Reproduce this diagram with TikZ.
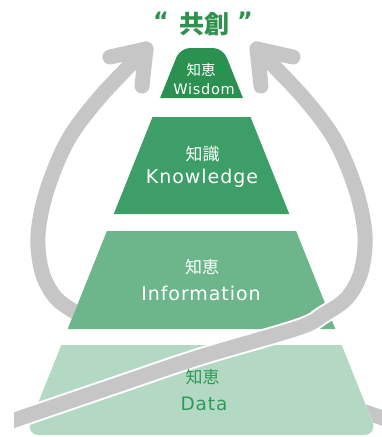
\documentclass[tikz,border=0pt]{standalone}
\usepackage{fontspec}
\setmainfont{DejaVu Sans}
\newfontfamily\cjk{Noto Sans CJK JP}
\newfontfamily\lat[LetterSpace=5]{DejaVu Sans}
\definecolor{gW}{HTML}{2A9150}
\definecolor{gK}{HTML}{3D9E68}
\definecolor{gI}{HTML}{6DB68B}
\definecolor{gD}{HTML}{B3D9C4}
\definecolor{gT}{HTML}{2E9150}
\definecolor{gDT}{HTML}{2F9A57}
\definecolor{arrgray}{HTML}{C6C6C6}
\begin{document}
\begin{tikzpicture}[x=1pt,y=-1pt,
  arr/.style={line width=15pt, draw=arrgray, line cap=round, line join=round},
  arrborder/.style={line width=19pt, draw=white, line cap=round, line join=round},
  cjkw/.style={font=\cjk\fontsize{#1}{#1}\selectfont, text=white, inner sep=0pt},
  latw/.style={font=\lat\fontsize{#1}{#1}\selectfont, text=white, inner sep=0pt, anchor=base},
  cjkd/.style={font=\cjk\fontsize{17}{17}\selectfont, text=gDT, inner sep=0pt},
  latd/.style={font=\lat\fontsize{18.5}{18.5}\selectfont, text=gDT, inner sep=0pt, anchor=base}]
\useasboundingbox (0,0) rectangle (382,437);

% left arrow (behind pyramid)
\draw[arr] plot[smooth, tension=0.55] coordinates {(146,49) (100,97) (68,140) (47,190) (38,235) (42,272) (56,298) (80,315) (105,328) (203,357) (283,384) (400,424)};
\draw[arr] (110,57) -- (146,49) -- (142,86);

% white pyramid base
\fill[white] (180.1,48) -- (222.9,48) -- (377.7,435) -- (25.3,435) -- cycle;

% layers
\fill[gW] (160.1,98) [rounded corners=10pt] -- (180.1,48) -- (222.9,48) [sharp corners] -- (242.9,98) -- cycle;
\fill[gK] (152.5,117) -- (250.5,117) -- (289.3,214) -- (113.7,214) -- cycle;
\fill[gI] (106.9,231) -- (296.1,231) -- (335.3,329) -- (67.7,329) -- cycle;
\fill[gD] (61.3,345) -- (341.7,345) [rounded corners=14pt] -- (377.7,435) -- (25.3,435) [sharp corners] -- cycle;

% right arrow (in front, mirrored)
\begin{scope}
\clip (14,0) rectangle (382,437);
\begin{scope}[shift={(403,0)}, xscale=-1]
\draw[arrborder] plot[smooth, tension=0.55] coordinates {(146,49) (100,97) (68,140) (47,190) (38,235) (42,272) (56,298) (80,315) (105,328) (203,357) (283,384) (400,424)};
\draw[arr] plot[smooth, tension=0.55] coordinates {(146,49) (100,97) (68,140) (47,190) (38,235) (42,272) (56,298) (80,315) (105,328) (203,357) (283,384) (400,424)};
\draw[arr] (110,57) -- (146,49) -- (142,86);
\end{scope}
\end{scope}

% title
\node[font=\cjk\bfseries\fontsize{25}{25}\selectfont, text=gT, inner sep=0pt] (title) at (204,24) {共創};
\node[font=\bfseries\fontsize{24}{24}\selectfont, text=gT, inner sep=0pt] (ql) at (161,21) {“};
\node[font=\bfseries\fontsize{24}{24}\selectfont, text=gT, inner sep=0pt] (qr) at (245,21) {”};

% texts
\node[cjkw=14.5] (w1) at (201,70) {知恵};
\node[latw=14.5] (w2) at (204,94) {Wisdom};
\node[cjkw=17] (k1) at (202.5,154.5) {知識};
\node[latw=19] (k2) at (202,183.5) {Knowledge};
\node[cjkw=17] (i1) at (202,267.5) {知恵};
\node[latw=19] (i2) at (201,300) {Information};
\node[cjkd] (d1) at (202.5,377.5) {知恵};
\node[latd] (d2) at (204,410) {Data};
\end{tikzpicture}
\end{document}
